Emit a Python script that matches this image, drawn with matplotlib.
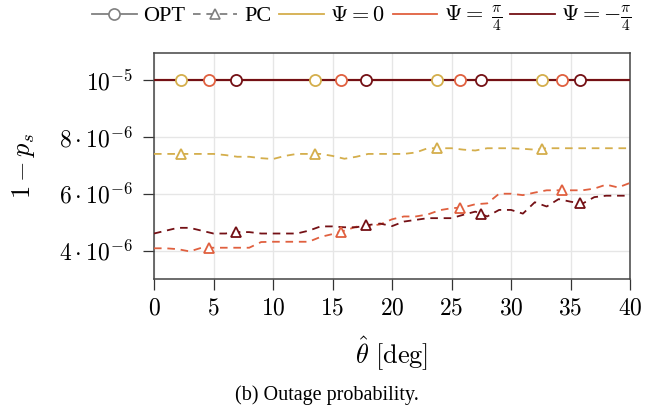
import numpy as np
import matplotlib
matplotlib.use("Agg")
import matplotlib.pyplot as plt
from matplotlib.lines import Line2D
from matplotlib.ticker import FuncFormatter

plt.rcParams["font.family"] = "serif"
plt.rcParams["font.serif"] = ["Liberation Serif", "DejaVu Serif"]
plt.rcParams["mathtext.fontset"] = "cm"

# -------------------------------------------------------------------
# data (values in units of 1e-6 unless noted)
# -------------------------------------------------------------------
theta = np.arange(0, 41, 1)

opt_level = 10.0  # all OPT curves sit at 1e-5

pc_psi0 = [7.40, 7.40, 7.40, 7.40, 7.40, 7.40, 7.36, 7.30, 7.30, 7.25,
           7.22, 7.33, 7.40, 7.40, 7.40, 7.33, 7.23, 7.30, 7.40, 7.40,
           7.40, 7.40, 7.45, 7.60, 7.60, 7.60, 7.55, 7.52, 7.60, 7.60,
           7.60, 7.58, 7.55, 7.60, 7.60, 7.60, 7.60, 7.60, 7.60, 7.60,
           7.60]
pc_psi_p4 = [4.08, 4.08, 4.05, 3.97, 4.10, 4.10, 4.10, 4.10, 4.10, 4.30,
             4.31, 4.31, 4.31, 4.31, 4.48, 4.58, 4.70, 4.84, 4.86, 4.92,
             5.10, 5.20, 5.20, 5.27, 5.42, 5.49, 5.52, 5.63, 5.66, 6.00,
             6.00, 5.95, 6.04, 6.12, 6.12, 6.12, 6.12, 6.18, 6.32, 6.22,
             6.38]
pc_psi_m4 = [4.60, 4.70, 4.80, 4.80, 4.70, 4.60, 4.60, 4.65, 4.65, 4.60,
             4.60, 4.60, 4.60, 4.70, 4.85, 4.85, 4.82, 4.82, 4.90, 4.95,
             4.86, 5.02, 5.08, 5.14, 5.14, 5.14, 5.26, 5.37, 5.20, 5.43,
             5.43, 5.30, 5.70, 5.55, 5.81, 5.72, 5.65, 5.88, 5.93, 5.93,
             5.93]

# marker positions along theta for each Psi
marks_psi0 = [2.3, 13.5, 23.8, 32.6]
marks_psi_p4 = [4.6, 15.7, 25.7, 34.3]
marks_psi_m4 = [6.9, 17.8, 27.5, 35.8]

series = [
    (r"$\Psi = 0$", pc_psi0, marks_psi0, "#d4ae4c"),
    (r"$\Psi =\; \frac{\pi}{4}$", pc_psi_p4, marks_psi_p4, "#e0603f"),
    (r"$\Psi = -\frac{\pi}{4}$", pc_psi_m4, marks_psi_m4, "#741015"),
]

# -------------------------------------------------------------------
# figure
# -------------------------------------------------------------------
fig = plt.figure(figsize=(6.54, 4.08), dpi=100)
ax = fig.add_axes([154 / 654, 1 - 279 / 408, 476 / 654, 226 / 408])

dash = (0, (4.2, 3.2))
lw = 1.3

for label, pc, marks, color in series:
    pc = np.asarray(pc) * 1e-6
    opt = np.full(len(theta), opt_level * 1e-6)
    ax.plot(theta, opt, color=color, lw=1.5, zorder=3)
    ax.plot(theta, pc, color=color, lw=lw, linestyle=dash, zorder=3)

for label, pc, marks, color in series:
    pc = np.asarray(pc) * 1e-6
    mx = np.asarray(marks)
    ax.plot(mx, np.full(len(mx), opt_level * 1e-6), linestyle="none",
            marker="o", ms=8, mfc="white", mec=color, mew=1.3, zorder=4)
    ax.plot(mx, np.interp(mx, theta, pc), linestyle="none",
            marker="^", ms=7, mfc="white", mec=color, mew=1.3, zorder=4)

ax.set_xlim(0, 40)
ax.set_ylim(3.0e-6, 1.095e-5)
ax.set_xticks(np.arange(0, 41, 5))
ax.set_yticks([4e-6, 6e-6, 8e-6, 1e-5])


def y_fmt(v, pos):
    m = v / 1e-6
    if abs(m - 10) < 1e-6:
        return r"$10^{-5}$"
    return r"$%d\cdot10^{-6}$" % round(m)


ax.yaxis.set_major_formatter(FuncFormatter(y_fmt))
ax.xaxis.set_major_formatter(FuncFormatter(lambda v, p: r"$%d$" % v))

ax.grid(True, color="#e6e6e6", lw=1.0, zorder=0)
ax.set_axisbelow(True)
for s in ax.spines.values():
    s.set_color("#444444")
    s.set_linewidth(1.1)
ax.tick_params(direction="out", length=8, width=0.9, color="#333333",
               labelsize=17, top=False, right=False)
ax.tick_params(axis="x", pad=6)
ax.tick_params(axis="y", pad=7)

ax.set_ylabel(r"$1 - p_s$", fontsize=19)
ax.yaxis.set_label_coords(-0.245, 0.5)
ax.set_xlabel(r"$\hat{\theta}\ [\mathrm{deg}]$", fontsize=19)
ax.xaxis.set_label_coords(0.5, -0.245)

# legend
gray = "#808080"
handles = [
    Line2D([], [], color=gray, lw=lw, marker="o", ms=8, mfc="white", mec=gray, mew=1.2),
    Line2D([], [], color=gray, lw=lw, linestyle=dash, marker="^", ms=7,
           mfc="white", mec=gray, mew=1.2),
]
labels = ["OPT", "PC"]
for label, pc, marks, color in series:
    handles.append(Line2D([], [], color=color, lw=lw))
    labels.append(label)

fig.legend(handles, labels, loc="center", bbox_to_anchor=(362 / 654, 1 - 18 / 408),
           ncol=5, frameon=False, fontsize=16, handlelength=2.0,
           handletextpad=0.3, columnspacing=0.35, borderaxespad=0)

fig.text(0.5, 1 - 395 / 408, "(b) Outage probability.", ha="center", va="center",
         fontsize=14.5)

fig.savefig("out.png", dpi=100)
